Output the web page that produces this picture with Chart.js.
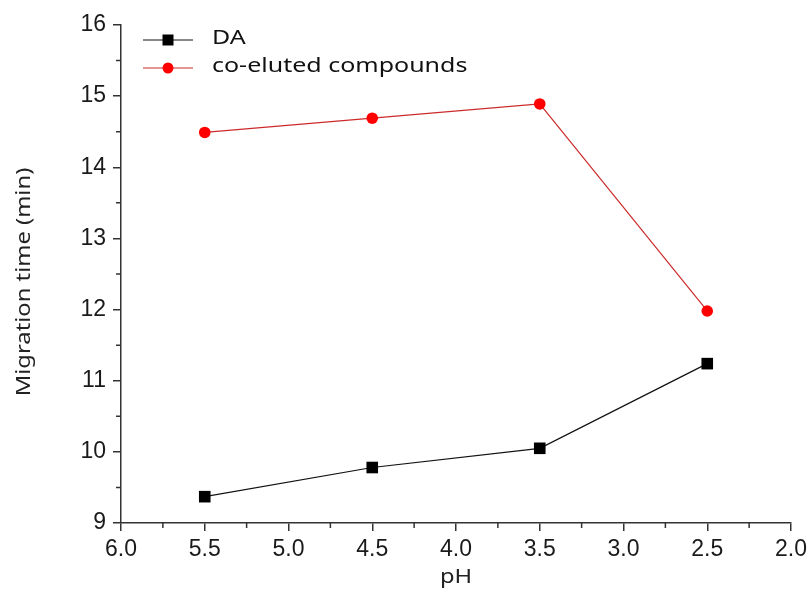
<!DOCTYPE html>
<html>
<head>
<meta charset="utf-8">
<script src="https://cdn.jsdelivr.net/npm/chart.js@4/dist/chart.umd.min.js"></script>
<style>
  html, body { margin: 0; padding: 0; background: #fff; }
  #wrap { width: 809px; height: 601px; position: relative; }
</style>
</head>
<body>
<div id="wrap"><canvas id="grafico"></canvas></div>
<script>
// pH values (x) and migration times (y)
const ph = [5.5, 4.5, 3.5, 2.5];
const tempoDA = [9.37, 9.78, 10.05, 11.24];
const tempoCoeluidos = [14.49, 14.69, 14.89, 11.98];
const nomesSeries = ['DA', 'co-eluted compounds'];
const tituloX = 'pH';
const tituloY = 'Migration time (min)';

const xMenores = [5.75, 5.25, 4.75, 4.25, 3.75, 3.25, 2.75, 2.25];
const yMenores = [9.5, 10.5, 11.5, 12.5, 13.5, 14.5, 15.5];

const COR_EIXO = '#333';
const FONTE_TICK = "'Liberation Sans', Arial, sans-serif";
const FONTE_TEXTO = "'Noto Sans', 'DejaVu Sans', sans-serif";
const ESTICA = 1.25; // fonte do original é bem mais larga

const pontos = (ys) => ph.map((x, i) => ({ x, y: ys[i] }));

// texto esticado na horizontal
function textoLargo(ctx, txt, x, y, alinh) {
  ctx.save();
  ctx.translate(x, y);
  ctx.scale(ESTICA, 1);
  ctx.textAlign = alinh;
  ctx.fillText(txt, 0, 0);
  ctx.restore();
}

// ticks menores, títulos dos eixos e legenda
const extras = {
  id: 'extras',
  afterDraw(chart) {
    const { ctx, chartArea } = chart;
    const sx = chart.scales.x, sy = chart.scales.y;
    ctx.save();
    ctx.strokeStyle = COR_EIXO;
    ctx.lineWidth = 1.5;
    ctx.beginPath();
    for (const v of xMenores) {
      const px = sx.getPixelForValue(v);
      ctx.moveTo(px, chartArea.bottom);
      ctx.lineTo(px, chartArea.bottom + 5);
    }
    for (const v of yMenores) {
      const py = sy.getPixelForValue(v);
      ctx.moveTo(chartArea.left, py);
      ctx.lineTo(chartArea.left - 5, py);
    }
    ctx.stroke();

    // títulos
    ctx.fillStyle = '#222';
    ctx.font = `19px ${FONTE_TEXTO}`;
    ctx.textBaseline = 'middle';
    textoLargo(ctx, tituloX, (chartArea.left + chartArea.right) / 2, 578, 'center');
    ctx.save();
    ctx.translate(25, 282);
    ctx.rotate(-Math.PI / 2);
    textoLargo(ctx, tituloY, 0, 0, 'center');
    ctx.restore();

    // legenda
    chart.data.datasets.forEach((ds, i) => {
      const y = 40 + i * 28;
      ctx.strokeStyle = ds.borderColor;
      ctx.lineWidth = 1;
      ctx.beginPath();
      ctx.moveTo(143, y);
      ctx.lineTo(193, y);
      ctx.stroke();
      ctx.fillStyle = ds.pointBackgroundColor;
      if (ds.pointStyle === 'rect') {
        ctx.fillRect(168 - 5.5, y - 5.5, 11, 11);
      } else {
        ctx.beginPath();
        ctx.arc(168, y, 5.5, 0, Math.PI * 2);
        ctx.fill();
      }
      ctx.fillStyle = '#111';
      ctx.font = `20px ${FONTE_TEXTO}`;
      ctx.textBaseline = 'alphabetic';
      textoLargo(ctx, ds.label, 212, y + 4, 'left');
    });
    ctx.restore();
  }
};

new Chart(document.getElementById('grafico'), {
  type: 'scatter',
  data: {
    datasets: [
      {
        label: nomesSeries[0],
        data: pontos(tempoDA),
        showLine: true,
        borderColor: '#111',
        borderWidth: 1.2,
        pointStyle: 'rect',
        pointRadius: 8.2,
        pointBackgroundColor: '#000',
        pointBorderWidth: 0,
      },
      {
        label: nomesSeries[1],
        data: pontos(tempoCoeluidos),
        showLine: true,
        borderColor: '#cc2a2a',
        borderWidth: 1.2,
        pointStyle: 'circle',
        pointRadius: 5.8,
        pointBackgroundColor: '#ff0000',
        pointBorderWidth: 0,
      },
    ],
  },
  options: {
    responsive: true,
    maintainAspectRatio: false,
    animation: false,
    layout: { padding: { top: 25, right: 18, left: 0, bottom: 0 } },
    plugins: {
      legend: { display: false },
      tooltip: { enabled: false },
    },
    scales: {
      x: {
        type: 'linear',
        min: 2, max: 6,
        reverse: true,
        afterFit: (s) => { s.height = 78; s.paddingRight = 0; s.paddingLeft = 0; },
        border: { color: COR_EIXO, width: 1.5 },
        grid: { display: true, drawOnChartArea: false, drawTicks: true, tickLength: 8, color: COR_EIXO, lineWidth: 1.5 },
        ticks: {
          stepSize: 0.5,
          color: '#1a1a1a',
          padding: 5,
          font: { family: FONTE_TICK, size: 23 },
          callback: v => v.toFixed(1),
        },
      },
      y: {
        min: 9, max: 16,
        afterFit: (s) => { s.width = 121; },
        border: { color: COR_EIXO, width: 1.5 },
        grid: { display: true, drawOnChartArea: false, drawTicks: true, tickLength: 8, color: COR_EIXO, lineWidth: 1.5 },
        ticks: {
          stepSize: 1,
          color: '#1a1a1a',
          padding: 7,
          font: { family: FONTE_TICK, size: 23 },
        },
      },
    },
  },
  plugins: [extras],
});
</script>
</body>
</html>
